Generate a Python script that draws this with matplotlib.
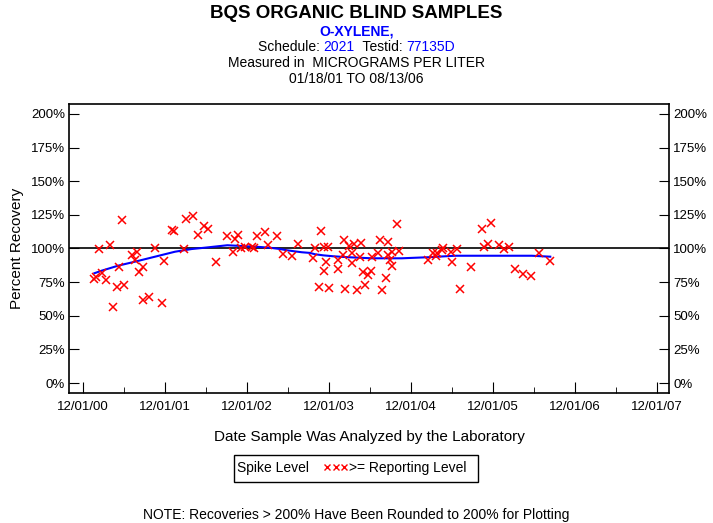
import matplotlib
matplotlib.use("Agg")
import matplotlib.pyplot as plt
from matplotlib.lines import Line2D
from matplotlib.patches import Rectangle

plt.rcParams['font.family'] = ['Liberation Sans', 'DejaVu Sans']

# Sample dates (decimal years) and percent recovery
sample_year = [
    2001.055, 2001.072, 2001.112, 2001.152, 2001.194, 2001.243, 2001.279, 2001.328,
    2001.356, 2001.396, 2001.421, 2001.511, 2001.551, 2001.579, 2001.604, 2001.652,
    2001.652, 2001.722, 2001.799, 2001.884, 2001.908, 2002.006, 2002.030, 2002.149,
    2002.169, 2002.255, 2002.316, 2002.393, 2002.445, 2002.539, 2002.677, 2002.750,
    2002.771, 2002.811, 2002.844, 2002.893, 2002.974, 2003.006, 2003.043, 2003.137,
    2003.177, 2003.287, 2003.356, 2003.462, 2003.543, 2003.726, 2003.746, 2003.795,
    2003.823, 2003.860, 2003.880, 2003.856, 2003.908, 2003.921, 2004.030, 2004.030,
    2004.084, 2004.104, 2004.112, 2004.165, 2004.194, 2004.194, 2004.226, 2004.262,
    2004.295, 2004.307, 2004.335, 2004.360, 2004.396, 2004.429, 2004.438, 2004.518,
    2004.539, 2004.567, 2004.612, 2004.640, 2004.640, 2004.661, 2004.682, 2004.689,
    2004.750, 2004.774, 2005.128, 2005.182, 2005.222, 2005.238, 2005.295, 2005.311,
    2005.401, 2005.421, 2005.482, 2005.518, 2005.652, 2005.783, 2005.807, 2005.860,
    2005.896, 2005.994, 2006.051, 2006.108, 2006.189, 2006.283, 2006.377, 2006.474,
    2006.615,
]
recovery_pct = [
    77.3, 79.0, 99.4, 82.0, 76.6, 102.6, 56.7, 71.6,
    86.0, 121.2, 72.9, 95.2, 91.5, 97.6, 82.8, 86.5,
    61.7, 63.7, 100.1, 59.3, 90.7, 113.8, 113.2, 99.4,
    121.7, 124.4, 110.0, 116.7, 114.3, 90.2, 109.3, 97.6,
    106.8, 110.3, 100.6, 101.3, 101.3, 100.1, 109.3, 112.0,
    102.6, 109.5, 95.9, 94.6, 103.1, 92.7, 100.1, 71.2,
    112.8, 101.3, 90.2, 83.3, 101.3, 70.4, 91.4, 84.5,
    95.2, 106.3, 69.9, 102.1, 96.4, 89.4, 103.1, 69.1,
    93.9, 104.3, 82.3, 72.9, 80.3, 83.3, 93.9, 96.4,
    106.3, 69.1, 77.8, 105.1, 95.2, 91.4, 87.2, 97.6,
    118.0, 98.4, 91.4, 96.9, 94.4, 96.4, 98.9, 100.1,
    97.6, 90.2, 99.6, 69.7, 86.5, 114.5, 100.9, 103.1,
    118.7, 102.6, 99.4, 101.3, 84.8, 80.8, 79.3, 96.4,
    90.5,
]

# smoothed trend line
trend_year = [
    2001.055, 2001.145, 2001.344, 2001.551, 2001.795, 2002.039, 2002.243, 2002.405,
    2002.677, 2002.832, 2003.076, 2003.218, 2003.319, 2003.401, 2003.494, 2003.584,
    2003.685, 2003.746, 2003.847, 2003.969, 2004.152, 2004.438, 2004.803, 2005.128,
    2005.453, 2006.389, 2006.615,
]
trend_pct = [
    81.6, 83.5, 87.2, 90.2, 93.9, 97.6, 99.6, 100.6,
    102.4, 101.9, 101.1, 100.4, 99.6, 98.7, 97.9, 97.2,
    96.7, 95.7, 94.9, 94.2, 93.5, 92.7, 92.7, 93.5,
    94.6, 94.6, 93.9,
]

tick_year = [2000.917 + k for k in range(8)]
tick_labels = ['12/01/00', '12/01/01', '12/01/02', '12/01/03',
               '12/01/04', '12/01/05', '12/01/06', '12/01/07']
pct_ticks = [0, 25, 50, 75, 100, 125, 150, 175, 200]

fig = plt.figure(figsize=(7.13, 5.23), dpi=100)
ax = fig.add_axes([0.0968, 0.2486, 0.8415, 0.5526])

ax.axhline(100, color='black', lw=1.2, zorder=1)
ax.plot(trend_year, trend_pct, color='#0000ff', lw=1.5, zorder=2)
ax.plot(sample_year, recovery_pct, ls='none', marker='x', color='#ff0000',
        ms=6, mew=1.1, zorder=3)

ax.set_xlim(2000.746, 2008.063)
ax.set_ylim(-7.4, 207.4)
ax.set_xticks(tick_year)
ax.set_xticklabels(tick_labels)
ax.set_xticks([y + 0.5 for y in tick_year[:-1]], minor=True)
ax.set_yticks(pct_ticks)
ax.set_yticklabels(['%d%%' % p for p in pct_ticks])
ax.tick_params(axis='y', direction='in', length=7, right=True, labelright=True,
               labelsize=9.5, pad=3)
ax.tick_params(axis='x', which='major', direction='in', length=8, labelsize=9.5, pad=6)
ax.tick_params(axis='x', which='minor', direction='in', length=4)
for s in ax.spines.values():
    s.set_linewidth(1.2)

ax.set_xlabel('Date Sample Was Analyzed by the Laboratory', fontsize=11, labelpad=12)
ax.set_ylabel('Percent Recovery', fontsize=11, labelpad=5)

# titles
fig.text(0.5, 1 - 14 / 523, 'BQS ORGANIC BLIND SAMPLES', ha='center', va='center',
         fontsize=13.5, fontweight='bold')
fig.text(0.5, 1 - 31 / 523, 'O-XYLENE,', ha='center', va='center',
         fontsize=10, fontweight='bold', color='#0000ff')

# mixed colour line: Schedule / Testid
parts = [('Schedule: ', 'black'), ('2021', '#0000ff'), ('  Testid: ', 'black'),
         ('77135D', '#0000ff')]
renderer = fig.canvas.get_renderer()
widths = []
for txt, col in parts:
    t = fig.text(0, 0, txt, fontsize=10)
    widths.append(t.get_window_extent(renderer).width)
    t.remove()
total = sum(widths)
x0 = 713 / 2 - total / 2
for (txt, col), w in zip(parts, widths):
    fig.text(x0 / 713, 1 - 47 / 523, txt, ha='left', va='center', fontsize=10, color=col)
    x0 += w

fig.text(0.5, 1 - 63 / 523, 'Measured in  MICROGRAMS PER LITER', ha='center',
         va='center', fontsize=10)
fig.text(0.5, 1 - 79 / 523, '01/18/01 TO 08/13/06', ha='center', va='center', fontsize=10)

# legend box
fig.patches.append(Rectangle((234 / 713, 1 - 482 / 523), 244 / 713, 27 / 523,
                             transform=fig.transFigure, fill=False, ec='black', lw=1))
fig.text(237 / 713, 1 - 468 / 523, 'Spike Level', ha='left', va='center', fontsize=10)
fig.lines.append(Line2D([327 / 713, 335.5 / 713, 344 / 713], [1 - 467 / 523] * 3,
                        transform=fig.transFigure, ls='none', marker='x',
                        color='#ff0000', ms=5, mew=1))
fig.text(349 / 713, 1 - 468 / 523, '>= Reporting Level', ha='left', va='center', fontsize=10)

fig.text(0.5, 1 - 515 / 523, 'NOTE: Recoveries > 200% Have Been Rounded to 200% for Plotting',
         ha='center', va='center', fontsize=10)

fig.savefig('out.png', dpi=100)
